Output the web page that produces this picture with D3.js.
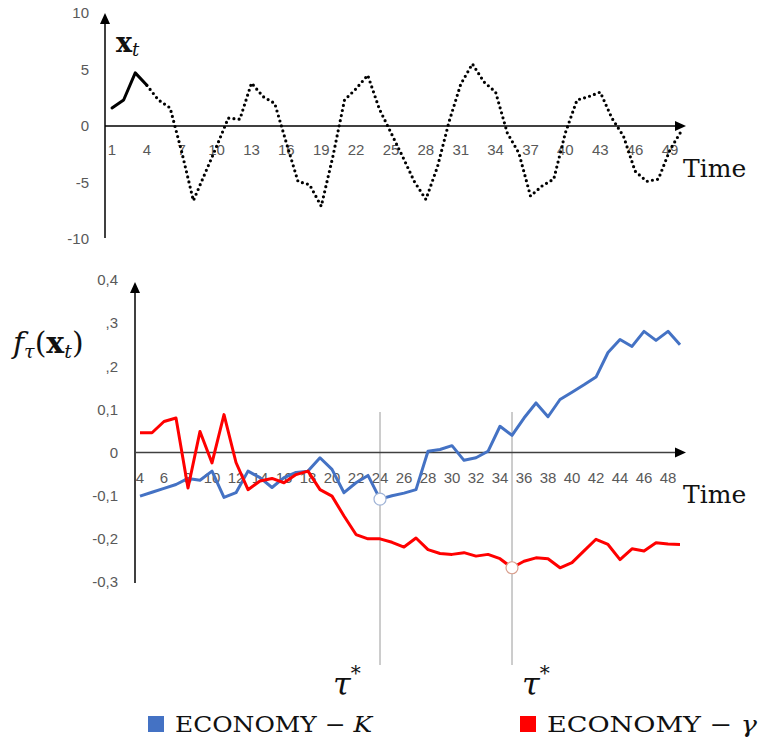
<!DOCTYPE html>
<html>
<head>
<meta charset="utf-8">
<script src="https://cdn.jsdelivr.net/npm/d3@7/dist/d3.min.js"></script>
<style>
  body { margin: 0; background: #fff; }
  svg { display: block; }
  .tick-label { font-family: "Liberation Sans", Arial, sans-serif; font-size: 15px; fill: #595959; }
  .math { font-family: "DejaVu Serif", "Liberation Serif", serif; fill: #111; }
</style>
</head>
<body>
<svg id="chart" width="763" height="742"></svg>
<script>
// top panel: the series x_t, t = 1..50
var topTimes = d3.range(1, 51);
var xtValues = [1.6, 2.3, 4.7, 3.6, 2.3, 1.6, -2.3, -6.6, -4.2, -1.8,
                0.7, 0.6, 3.8, 2.6, 2.0, -1.5, -4.9, -5.2, -7.1, -2.7,
                2.3, 3.3, 4.5, 1.5, -0.6, -2.7, -4.9, -6.5, -3.6, 0.4,
                3.7, 5.5, 3.9, 3.0, -0.6, -2.4, -6.2, -5.3, -4.7, -0.6,
                2.3, 2.6, 3.0, 0.7, -0.9, -4.0, -4.9, -4.7, -2.1, -0.4];
var topYTicks = [-10, -5, 0, 5, 10];
var topXTicks = d3.range(1, 50, 3);
var solidCount = 4;   // first points drawn solid, the rest dotted

// bottom panel: f_tau(x_t) for the two economies, t = 4..49
var botTimes = d3.range(4, 50);
var economyK = [-0.101, -0.092, -0.083, -0.074, -0.060, -0.064, -0.043, -0.104, -0.093, -0.043,
                -0.058, -0.081, -0.058, -0.046, -0.043, -0.012, -0.039, -0.093, -0.070, -0.053,
                -0.108, -0.100, -0.094, -0.086, 0.003, 0.007, 0.016, -0.018, -0.012, 0.003,
                0.061, 0.040, 0.080, 0.115, 0.083, 0.123, 0.140, 0.157, 0.175, 0.232,
                0.262, 0.246, 0.281, 0.260, 0.281, 0.250];
var economyGamma = [0.046, 0.046, 0.072, 0.080, -0.082, 0.049, -0.024, 0.088, -0.023, -0.086,
                    -0.066, -0.060, -0.070, -0.051, -0.043, -0.086, -0.101, -0.147, -0.190, -0.200,
                    -0.200, -0.208, -0.219, -0.198, -0.225, -0.234, -0.236, -0.232, -0.240, -0.236,
                    -0.246, -0.267, -0.252, -0.244, -0.246, -0.267, -0.255, -0.228, -0.201, -0.213,
                    -0.248, -0.223, -0.228, -0.209, -0.212, -0.213];
var botYTicks = [-0.3, -0.2, -0.1, 0, 0.1, 0.2, 0.3, 0.4];
var botYLabels = ["-0,3", "-0,2", "-0,1", "0", "0,1", ",2", ",3", "0,4"];
var botXTicks = d3.range(4, 49, 2);
var tauStar = [24, 35];   // change points: circle on K at the first, on gamma at the second

var seriesNames = ["K", "γ"];
var seriesColors = ["#4472C4", "#FF0000"];

var svg = d3.select('#chart');

function arrow(g, x, y, dir) {
    var pts = dir == 'up'
        ? [[x, y], [x - 5, y + 11], [x + 5, y + 11]]
        : [[x, y], [x - 11, y - 5], [x - 11, y + 5]];
    g.append('path').attr('d', d3.line()(pts) + 'Z').attr('fill', '#000');
}

// ---------- top panel ----------
var xTop = d3.scaleLinear().domain([1, 49]).range([112, 670]);
var yTop = d3.scaleLinear().domain([-10, 10]).range([239, 13]);
var topG = svg.append('g');

topG.selectAll('.ylab').data(topYTicks).enter().append('text')
    .attr('class', 'tick-label')
    .attr('x', 89).attr('y', function (d) { return yTop(d); })
    .attr('dy', '0.35em').attr('text-anchor', 'end')
    .text(function (d) { return d; });

topG.selectAll('.xlab').data(topXTicks).enter().append('text')
    .attr('class', 'tick-label')
    .attr('x', function (d) { return xTop(d); }).attr('y', 150)
    .attr('dy', '0.35em').attr('text-anchor', 'middle')
    .text(function (d) { return d; });

topG.append('line').attr('x1', 105).attr('x2', 105).attr('y1', 238).attr('y2', 20)
    .attr('stroke', '#000').attr('stroke-width', 1.5);
arrow(topG, 105, 13, 'up');
topG.append('line').attr('x1', 105).attr('x2', 678).attr('y1', yTop(0)).attr('y2', yTop(0))
    .attr('stroke', '#000').attr('stroke-width', 1.5);
arrow(topG, 686, yTop(0), 'right');

var topLine = d3.line()
    .x(function (d) { return xTop(d[0]); })
    .y(function (d) { return yTop(d[1]); });
var topPts = topTimes.map(function (t, i) { return [t, xtValues[i]]; });

topG.append('path').attr('d', topLine(topPts.slice(0, solidCount)))
    .attr('fill', 'none').attr('stroke', '#000').attr('stroke-width', 3)
    .attr('stroke-linejoin', 'round').attr('stroke-linecap', 'round');
topG.append('path').attr('d', topLine(topPts.slice(solidCount - 1)))
    .attr('fill', 'none').attr('stroke', '#000').attr('stroke-width', 3.2)
    .attr('stroke-linecap', 'round').attr('stroke-dasharray', '0 5.2');

var xtLab = topG.append('text').attr('class', 'math').attr('x', 116).attr('y', 52).attr('font-size', 27);
xtLab.append('tspan').attr('font-weight', 'bold').text('x');
xtLab.append('tspan').attr('font-style', 'italic').attr('font-size', 18).attr('dy', 4).text('t');

topG.append('text').attr('class', 'math').attr('x', 683).attr('y', 177)
    .attr('font-size', 25).text('Time');

// ---------- bottom panel ----------
var xBot = d3.scaleLinear().domain([4, 48]).range([140, 668]);
var yBot = d3.scaleLinear().domain([-0.3, 0.4]).range([582, 280]);
var botG = svg.append('g');

botG.selectAll('.ylab').data(botYTicks).enter().append('text')
    .attr('class', 'tick-label')
    .attr('x', 118).attr('y', function (d) { return yBot(d); })
    .attr('dy', '0.35em').attr('text-anchor', 'end')
    .text(function (d, i) { return botYLabels[i]; });

botG.selectAll('.xlab').data(botXTicks).enter().append('text')
    .attr('class', 'tick-label')
    .attr('x', function (d) { return xBot(d); }).attr('y', 478)
    .attr('dy', '0.35em').attr('text-anchor', 'middle')
    .text(function (d) { return d; });

botG.selectAll('.tau-line').data(tauStar).enter().append('line')
    .attr('x1', function (d) { return xBot(d); }).attr('x2', function (d) { return xBot(d); })
    .attr('y1', 412).attr('y2', 665)
    .attr('stroke', '#9a9a9a').attr('stroke-width', 1);

botG.append('line').attr('x1', 135).attr('x2', 135).attr('y1', 583).attr('y2', 290)
    .attr('stroke', '#404040').attr('stroke-width', 2);
arrow(botG, 135, 282, 'up');
botG.append('line').attr('x1', 135).attr('x2', 678).attr('y1', yBot(0)).attr('y2', yBot(0))
    .attr('stroke', '#404040').attr('stroke-width', 1.5);
arrow(botG, 686, yBot(0), 'right');

var botLine = d3.line()
    .x(function (d, i) { return xBot(botTimes[i]); })
    .y(function (d) { return yBot(d); });

[economyK, economyGamma].forEach(function (vals, s) {
    botG.append('path').attr('d', botLine(vals))
        .attr('fill', 'none').attr('stroke', seriesColors[s]).attr('stroke-width', 3)
        .attr('stroke-linejoin', 'round');
});

// circles at the change points
var circleData = [
    {t: tauStar[0], v: economyK[botTimes.indexOf(tauStar[0])], c: '#9fb3d6'},
    {t: tauStar[1], v: economyGamma[botTimes.indexOf(tauStar[1])], c: '#d9a08f'}
];
botG.selectAll('.cp').data(circleData).enter().append('circle')
    .attr('cx', function (d) { return xBot(d.t); })
    .attr('cy', function (d) { return yBot(d.v); })
    .attr('r', 6).attr('fill', '#fff')
    .attr('stroke', function (d) { return d.c; }).attr('stroke-width', 1.2);

var fLab = botG.append('text').attr('class', 'math').attr('x', 13).attr('y', 353).attr('font-size', 30);
fLab.append('tspan').attr('font-style', 'italic').text('f');
fLab.append('tspan').attr('font-style', 'italic').attr('font-size', 19).attr('dy', 5).text('τ');
fLab.append('tspan').attr('dy', -5).text('(');
fLab.append('tspan').attr('font-weight', 'bold').text('x');
fLab.append('tspan').attr('font-style', 'italic').attr('font-size', 19).attr('dy', 5).text('t');
fLab.append('tspan').attr('dy', -5).text(')');

botG.append('text').attr('class', 'math').attr('x', 683).attr('y', 503)
    .attr('font-size', 25).text('Time');

// tau* labels sit left of the first line, right of the second
var tauDx = [-47, 10];
botG.selectAll('.tau-lab').data(tauStar).enter().append('text')
    .attr('class', 'math').attr('font-size', 32)
    .attr('x', function (d, i) { return xBot(d) + tauDx[i]; }).attr('y', 695)
    .each(function () {
        var t = d3.select(this);
        t.append('tspan').attr('font-style', 'italic').text('τ');
        t.append('tspan').attr('font-size', 20).attr('dy', -15).text('*');
    });

// legend
var legX = [148, 520];
var legLen = [197, 210];
seriesNames.forEach(function (name, i) {
    var g = svg.append('g').attr('transform', 'translate(' + legX[i] + ',716)');
    g.append('rect').attr('width', 16).attr('height', 16).attr('fill', seriesColors[i]);
    var t = g.append('text').attr('class', 'math').attr('x', 27).attr('y', 16)
        .attr('font-family', '"Liberation Serif", serif').attr('font-size', 22)
        .attr('textLength', legLen[i]).attr('lengthAdjust', 'spacingAndGlyphs');
    t.append('tspan').text('ECONOMY − ');
    t.append('tspan').attr('font-style', 'italic').text(name);
});
</script>
</body>
</html>
